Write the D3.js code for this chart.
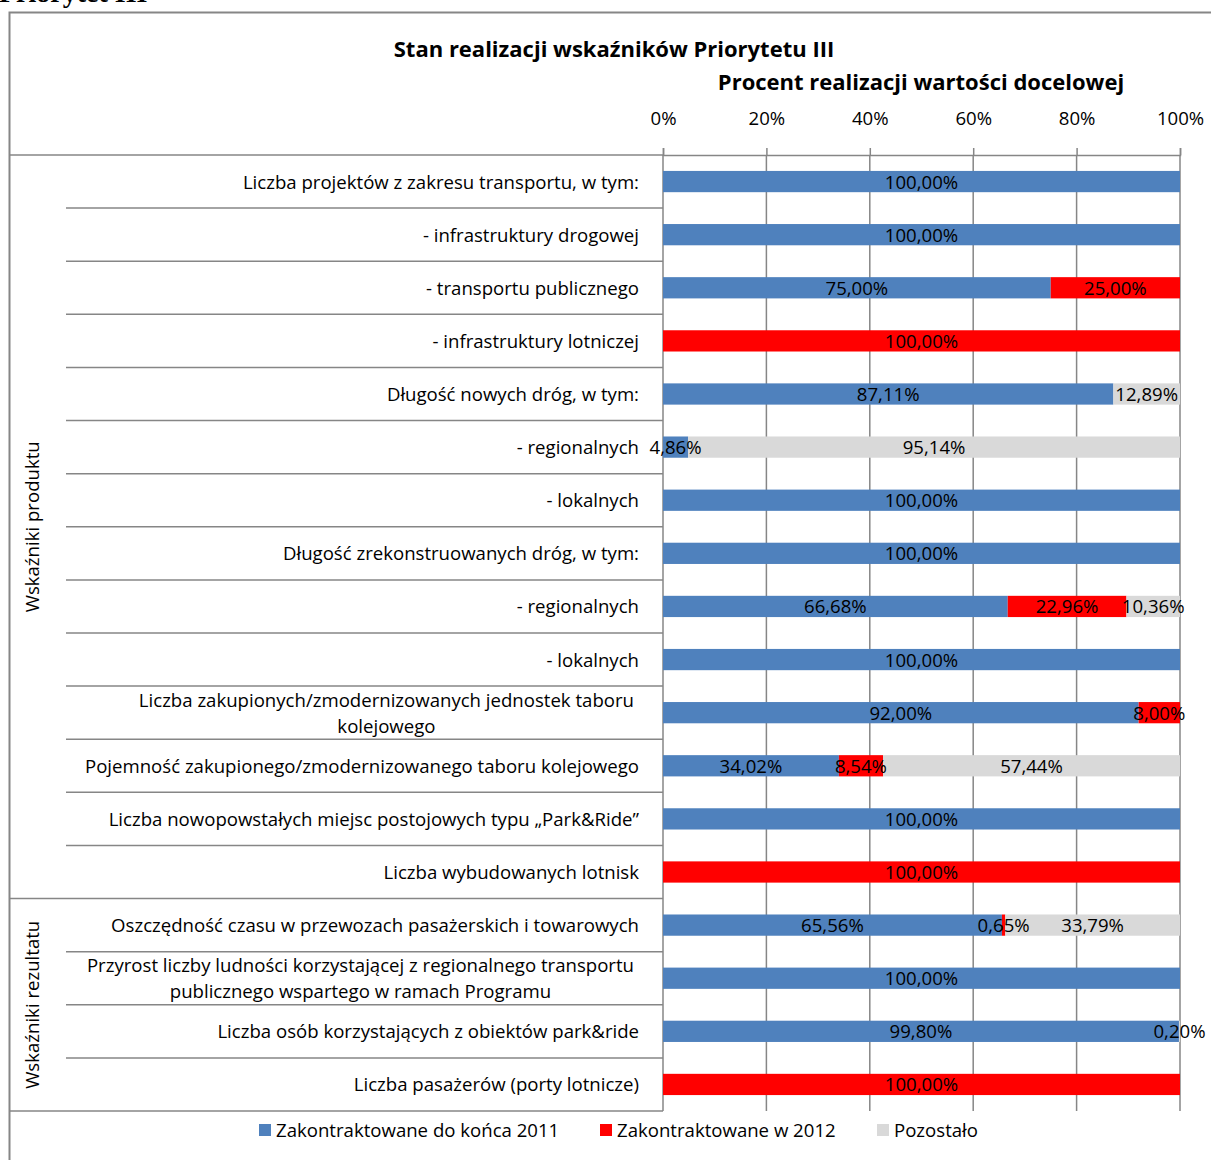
<!DOCTYPE html>
<html>
<head>
<meta charset="utf-8">
<script src="https://cdnjs.cloudflare.com/ajax/libs/d3/7.8.5/d3.min.js"></script>
<style>
  body { margin: 0; background: #fff; }
  svg { display: block; }
  text { font-family: "Open Sans", Lato, sans-serif; fill: #000; }
</style>
</head>
<body>
<svg id="chart" width="1211" height="1160"></svg>
<script>
// category labels (multi-line ones are split on "|")
var categories = [
  "Liczba projektów z zakresu transportu, w tym:",
  "- infrastruktury drogowej",
  "- transportu publicznego",
  "- infrastruktury lotniczej",
  "Długość nowych dróg, w tym:",
  "- regionalnych",
  "- lokalnych",
  "Długość zrekonstruowanych dróg, w tym:",
  "- regionalnych ",
  "- lokalnych ",
  "Liczba zakupionych/zmodernizowanych jednostek taboru|kolejowego",
  "Pojemność zakupionego/zmodernizowanego taboru kolejowego",
  "Liczba nowopowstałych miejsc postojowych typu „Park&Ride”",
  "Liczba wybudowanych lotnisk",
  "Oszczędność czasu w przewozach pasażerskich i towarowych",
  "Przyrost liczby ludności korzystającej z regionalnego transportu|publicznego wspartego w ramach Programu",
  "Liczba osób korzystających z obiektów park&ride",
  "Liczba pasażerów (porty lotnicze)"
];

// series values (percent of target)
var contracted2011 = [100, 100, 75, 0, 87.11, 4.86, 100, 100, 66.68, 100, 92, 34.02, 100, 0, 65.56, 100, 99.8, 0];
var contracted2012 = [0, 0, 25, 100, 0, 0, 0, 0, 22.96, 0, 8, 8.54, 0, 100, 0.65, 0, 0, 100];
var remaining      = [0, 0, 0, 0, 12.89, 95.14, 0, 0, 10.36, 0, 0, 57.44, 0, 0, 33.79, 0, 0.2, 0];

var seriesNames = ["Zakontraktowane do końca 2011", "Zakontraktowane w 2012", "Pozostało"];
var seriesColors = ["#4F81BD", "#FF0000", "#D9D9D9"];

// groups on the left (start index, end index exclusive)
var groups = [
  { name: "Wskaźniki produktu", from: 0, to: 14 },
  { name: "Wskaźniki rezultatu", from: 14, to: 18 }
];

var tickValues = [0, 20, 40, 60, 80, 100];

var svg = d3.select("#chart");
var gridColor = "#868686";
var fontSize = "18.6px";

var plotTop = 155, plotBottom = 1111;
var x = d3.scaleLinear().domain([0, 100]).range([663, 1180]);
var y = d3.scaleBand().domain(d3.range(categories.length)).range([plotTop, plotBottom]);
var barH = y.bandwidth() * 0.4;

// stacked table for d3.stack
var table = categories.map(function (c, i) {
  return { i: i, s0: contracted2011[i], s1: contracted2012[i], s2: remaining[i] };
});
var stacked = d3.stack().keys(["s0", "s1", "s2"])(table);

// heading of the page, cut at the top like in the source
svg.append("text")
  .attr("x", -1).attr("y", 2)
  .style("font-family", "'Liberation Serif', serif")
  .style("font-weight", "bold")
  .style("font-size", "28px")
  .text("Priorytet III");

// outer frame
svg.append("path")
  .attr("d", "M9.5,1160 V12.5 H1211")
  .attr("fill", "none").attr("stroke", gridColor).attr("stroke-width", 2);

// titles
svg.append("text")
  .attr("x", 614).attr("y", 57)
  .attr("text-anchor", "middle")
  .style("font-weight", "bold").style("font-size", "22px")
  .text("Stan realizacji wskaźników Priorytetu III");
svg.append("text")
  .attr("x", 921).attr("y", 90)
  .attr("text-anchor", "middle")
  .style("font-weight", "bold").style("font-size", "22px")
  .text("Procent realizacji wartości docelowej");

// vertical gridlines
svg.append("g").selectAll("line")
  .data(tickValues.slice(1))
  .enter().append("line")
  .attr("x1", function (d) { return x(d); }).attr("x2", function (d) { return x(d); })
  .attr("y1", plotTop).attr("y2", plotBottom)
  .attr("stroke", gridColor).attr("stroke-width", 1.5);

// top value axis
var axis = svg.append("g")
  .attr("transform", "translate(0," + plotTop + ")")
  .call(d3.axisTop(x).tickValues(tickValues).tickSize(7).tickPadding(23)
    .tickFormat(function (d) { return d + "%"; }));
axis.select(".domain").attr("stroke", gridColor).attr("stroke-width", 1.5);
axis.selectAll(".tick line").attr("stroke", gridColor).attr("stroke-width", 1.5);
axis.selectAll(".tick text").style("font-family", "'Open Sans', sans-serif").style("font-size", fontSize).attr("fill", "#000");

// header separator line on the left
svg.append("line")
  .attr("x1", 10).attr("x2", 663).attr("y1", plotTop).attr("y2", plotTop)
  .attr("stroke", gridColor).attr("stroke-width", 1.5);

// row separators (multi level category axis)
var boundaries = d3.range(1, categories.length + 1);
svg.append("g").selectAll("line")
  .data(boundaries)
  .enter().append("line")
  .attr("x1", function (d) {
    var isGroupEdge = groups.some(function (g) { return g.to === d; });
    return isGroupEdge ? 10 : 66;
  })
  .attr("x2", 663)
  .attr("y1", function (d) { return y(d - 1) + y.bandwidth(); })
  .attr("y2", function (d) { return y(d - 1) + y.bandwidth(); })
  .attr("stroke", gridColor).attr("stroke-width", 1.5);

// category axis line
svg.append("line")
  .attr("x1", 663).attr("x2", 663).attr("y1", plotTop).attr("y2", plotBottom)
  .attr("stroke", gridColor).attr("stroke-width", 1.5);

// bars
var layer = svg.append("g").selectAll("g")
  .data(stacked)
  .enter().append("g")
  .attr("fill", function (d, i) { return seriesColors[i]; });

layer.selectAll("rect")
  .data(function (d) { return d.filter(function (p) { return p[1] - p[0] > 0; }); })
  .enter().append("rect")
  .attr("x", function (p) { return x(p[0]); })
  .attr("width", function (p) { return x(p[1]) - x(p[0]); })
  .attr("y", function (p) { return y(p.data.i) + (y.bandwidth() - barH) / 2; })
  .attr("height", barH);

// data labels
function fmt(v) { return v.toFixed(2).replace(".", ",") + "%"; }
var labels = [];
stacked.forEach(function (s) {
  s.forEach(function (p) {
    if (p[1] - p[0] > 0) labels.push(p);
  });
});
svg.append("g").selectAll("text")
  .data(labels)
  .enter().append("text")
  .attr("x", function (p) { return x((p[0] + p[1]) / 2); })
  .attr("y", function (p) { return y(p.data.i) + y.bandwidth() / 2 + 7; })
  .attr("text-anchor", "middle")
  .style("font-size", fontSize)
  .text(function (p) { return fmt(p[1] - p[0]); });

// category labels
var catText = svg.append("g").selectAll("text")
  .data(categories)
  .enter().append("text")
  .style("font-size", fontSize)
  .attr("y", function (d, i) { return y(i) + y.bandwidth() / 2 + 7; });

catText.each(function (d, i) {
  var t = d3.select(this);
  var parts = d.split("|");
  if (parts.length === 1) {
    t.attr("x", 639).attr("text-anchor", "end").text(d);
  } else {
    // wrapped label: lines centered on the first line's width
    t.attr("text-anchor", "middle");
    var probe = t.append("tspan").text(parts[0]);
    var w = probe.node().getComputedTextLength();
    probe.remove();
    var cx = 634 - w / 2;
    t.attr("y", y(i) + y.bandwidth() / 2 - 6);
    parts.forEach(function (p, k) {
      t.append("tspan").attr("x", cx).attr("dy", k === 0 ? 0 : 26).text(p);
    });
  }
});

// group labels (rotated)
svg.append("g").selectAll("text")
  .data(groups)
  .enter().append("text")
  .attr("transform", function (g) {
    var cy = (y(g.from) + y(g.to - 1) + y.bandwidth()) / 2;
    return "translate(39," + cy + ") rotate(-90)";
  })
  .attr("text-anchor", "middle")
  .style("font-size", fontSize)
  .text(function (g) { return g.name; });

// legend
var legendX = [259, 600, 877];
var legend = svg.append("g").selectAll("g")
  .data(seriesNames)
  .enter().append("g")
  .attr("transform", function (d, i) { return "translate(" + legendX[i] + ",1124)"; });
legend.append("rect").attr("width", 12).attr("height", 12)
  .attr("fill", function (d, i) { return seriesColors[i]; });
legend.append("text").attr("x", 17).attr("y", 13)
  .style("font-size", fontSize)
  .text(function (d) { return d; });
</script>
</body>
</html>
